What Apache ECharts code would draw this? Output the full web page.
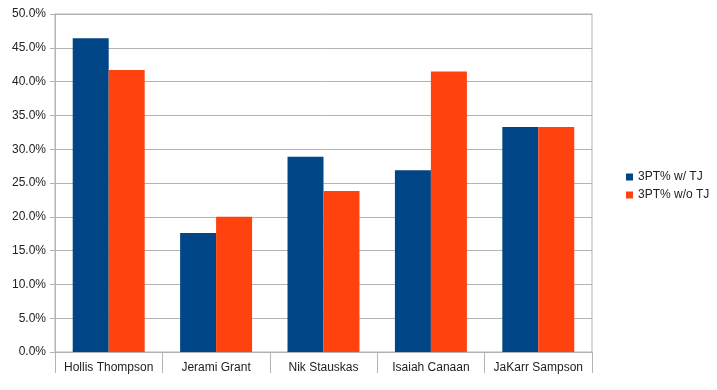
<!DOCTYPE html>
<html>
<head>
<meta charset="utf-8">
<script src="https://cdn.jsdelivr.net/npm/echarts@6/dist/echarts.min.js"></script>
<style>html,body{margin:0;padding:0;background:#fff;}#c{width:717px;height:390px;}</style>
</head>
<body>
<div id="c"></div>
<script>
const categories = ["Hollis Thompson", "Jerami Grant", "Nik Stauskas", "Isaiah Canaan", "JaKarr Sampson"];
const withTJ = [0.464, 0.176, 0.289, 0.269, 0.333];
const withoutTJ = [0.417, 0.200, 0.238, 0.415, 0.333];
const seriesNames = ["3PT% w/ TJ", "3PT% w/o TJ"];

const chart = echarts.init(document.getElementById('c'), null, {renderer: 'canvas'});
const font = 'Liberation Sans, Arial, sans-serif';
chart.setOption({
  animation: false,
  backgroundColor: '#ffffff',
  textStyle: {fontFamily: font},
  grid: {left: 55, right: 125, top: 14, bottom: 38, show: true, borderColor: '#b3b3b3', borderWidth: 1},
  legend: {
    orient: 'vertical', left: 621, top: 166, itemWidth: 7, itemHeight: 7, itemGap: 6, icon: 'rect',
    textStyle: {fontSize: 12, color: '#222', fontFamily: font},
    data: seriesNames
  },
  xAxis: {
    type: 'category', data: categories,
    axisLine: {lineStyle: {color: '#b3b3b3'}},
    axisTick: {show: true, interval: 0, length: 21, lineStyle: {color: '#b3b3b3'}},
    axisLabel: {interval: 0, color: '#222', fontSize: 12, margin: 10, fontFamily: font}
  },
  yAxis: {
    type: 'value', min: 0, max: 0.5, interval: 0.05,
    axisLine: {show: true, lineStyle: {color: '#b3b3b3'}},
    axisTick: {show: true, length: 5, lineStyle: {color: '#b3b3b3'}},
    splitLine: {lineStyle: {color: '#b3b3b3'}},
    axisLabel: {color: '#222', fontSize: 12, margin: 9, fontFamily: font,
      formatter: v => (v * 100).toFixed(1) + '%'}
  },
  series: [
    {name: seriesNames[0], type: 'bar', data: withTJ, itemStyle: {color: '#004586'}, barGap: '0%', barCategoryGap: '33%'},
    {name: seriesNames[1], type: 'bar', data: withoutTJ, itemStyle: {color: '#ff420e'}, barGap: '0%', barCategoryGap: '33%'}
  ]
});
</script>
</body>
</html>
